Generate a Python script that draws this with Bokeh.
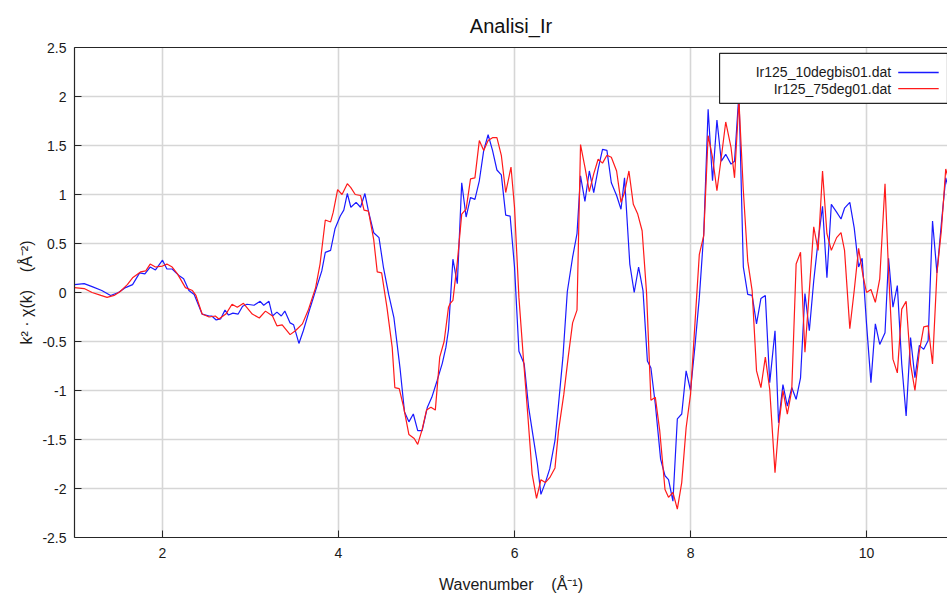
from bokeh.plotting import figure
from bokeh.models import FixedTicker, LinearAxis, BoxAnnotation, Label, Arrow, Range1d
from bokeh.embed import file_html
from bokeh.resources import INLINE

TITLE = "Analisi_Ir"
SERIES_NAMES = ["Ir125_10degbis01.dat", "Ir125_75deg01.dat"]
SERIES_COLORS = ["#1a1aff", "#ff1a1a"]

K_BLUE = [1.00, 1.11, 1.20, 1.31, 1.41, 1.50, 1.58, 1.66, 1.74, 1.80, 1.86, 1.92, 2.00, 2.05, 2.11,
          2.19, 2.24, 2.30, 2.36, 2.45, 2.53, 2.56, 2.61, 2.66, 2.71, 2.75, 2.80, 2.86, 2.91, 2.96,
          3.04, 3.11, 3.15, 3.21, 3.25, 3.30, 3.35, 3.39, 3.45, 3.49, 3.55, 3.60, 3.68, 3.75, 3.81,
          3.85, 3.91, 3.96, 4.02, 4.06, 4.10, 4.14, 4.20, 4.25, 4.30, 4.34, 4.40, 4.46, 4.51, 4.57,
          4.63, 4.70, 4.75, 4.80, 4.85, 4.90, 4.95, 5.01, 5.06, 5.12, 5.18, 5.22, 5.25, 5.30, 5.35,
          5.40, 5.45, 5.50, 5.55, 5.60, 5.65, 5.70, 5.75, 5.80, 5.85, 5.90, 5.95, 6.00, 6.05, 6.11,
          6.16, 6.21, 6.26, 6.30, 6.35, 6.40, 6.46, 6.50, 6.55, 6.60, 6.66, 6.71, 6.75, 6.80, 6.85,
          6.90, 6.95, 7.00, 7.05, 7.10, 7.16, 7.21, 7.25, 7.31, 7.36, 7.41, 7.46, 7.51, 7.55, 7.60,
          7.66, 7.71, 7.75, 7.80, 7.85, 7.90, 7.95, 8.00, 8.05, 8.10, 8.15, 8.20, 8.25, 8.30, 8.35,
          8.40, 8.46, 8.50, 8.55, 8.60, 8.65, 8.70, 8.75, 8.80, 8.85, 8.90, 8.96, 9.00, 9.05, 9.10,
          9.15, 9.20, 9.25, 9.30, 9.35, 9.40, 9.45, 9.50, 9.55, 9.60, 9.66, 9.71, 9.75, 9.81, 9.86,
          9.91, 9.95, 10.00, 10.05, 10.10, 10.15, 10.21, 10.25, 10.30, 10.35, 10.40, 10.45, 10.50,
          10.55, 10.60, 10.65, 10.70, 10.75, 10.80, 10.85, 10.90, 10.95]
CHI_BLUE = [0.08, 0.09, 0.06, 0.02, -0.03, 0.00, 0.05, 0.08, 0.20, 0.19, 0.26, 0.23, 0.33, 0.24, 0.24,
            0.17, 0.14, 0.02, -0.02, -0.22, -0.24, -0.24, -0.28, -0.27, -0.18, -0.23, -0.21, -0.22, -0.14, -0.12,
            -0.13, -0.09, -0.13, -0.09, -0.24, -0.20, -0.24, -0.19, -0.31, -0.33, -0.52, -0.39, -0.15, 0.05, 0.22,
            0.41, 0.43, 0.65, 0.78, 0.84, 1.01, 0.87, 0.92, 0.87, 1.01, 0.83, 0.61, 0.56, 0.26, -0.02,
            -0.26, -0.78, -1.22, -1.32, -1.24, -1.41, -1.41, -1.17, -1.07, -0.90, -0.72, -0.56, -0.38, 0.34, 0.09,
            1.12, 0.77, 0.97, 0.95, 1.14, 1.45, 1.61, 1.45, 1.25, 1.20, 0.79, 0.78, 0.26, -0.60, -0.73,
            -1.17, -1.46, -1.75, -2.06, -1.94, -1.80, -1.51, -1.14, -0.66, 0.01, 0.36, 0.60, 1.19, 0.93, 1.24,
            1.02, 1.26, 1.46, 1.45, 1.12, 0.99, 0.85, 1.17, 0.29, 0.00, 0.26, 0.02, -0.70, -0.77, -1.14,
            -1.70, -1.87, -1.91, -2.13, -1.29, -1.24, -0.80, -1.00, -0.55, -0.05, 0.60, 1.87, 1.14, 1.76, 1.34,
            1.41, 1.31, 1.34, 2.03, 0.26, -0.02, -0.03, -0.32, -0.06, -0.03, -0.92, -0.39, -1.33, -0.94, -1.16,
            -0.97, -1.09, -0.87, -0.01, -0.39, 0.12, 0.53, 0.88, 0.15, 0.90, 0.82, 0.75, 0.86, 0.92, 0.66,
            0.26, 0.35, -0.32, -0.92, -0.32, -0.53, -0.41, 0.35, -0.15, 0.07, -0.73, -1.26, -0.46,
            -0.87, -0.54, -0.58, -0.49, 0.73, 0.20, 0.70, 1.17, 1.00]

K_RED = [1.00, 1.11, 1.20, 1.30, 1.37, 1.45, 1.52, 1.60, 1.66, 1.75, 1.81, 1.86, 1.92, 2.00, 2.05,
         2.11, 2.17, 2.26, 2.34, 2.38, 2.45, 2.53, 2.60, 2.64, 2.72, 2.79, 2.85, 2.92, 3.02, 3.10,
         3.17, 3.25, 3.30, 3.36, 3.45, 3.51, 3.59, 3.66, 3.74, 3.79, 3.85, 3.91, 3.94, 3.99, 4.04,
         4.10, 4.14, 4.19, 4.25, 4.29, 4.34, 4.40, 4.44, 4.49, 4.55, 4.61, 4.64, 4.69, 4.74, 4.80,
         4.86, 4.90, 4.95, 5.00, 5.05, 5.10, 5.15, 5.20, 5.25, 5.27, 5.30, 5.35, 5.40, 5.45, 5.50,
         5.55, 5.60, 5.65, 5.70, 5.75, 5.80, 5.85, 5.90, 5.96, 6.00, 6.05, 6.10, 6.15, 6.20, 6.25,
         6.30, 6.35, 6.40, 6.46, 6.50, 6.56, 6.61, 6.66, 6.71, 6.75, 6.80, 6.85, 6.90, 6.95, 7.00,
         7.05, 7.10, 7.16, 7.21, 7.25, 7.30, 7.35, 7.40, 7.45, 7.50, 7.55, 7.60, 7.65, 7.71, 7.75,
         7.80, 7.85, 7.90, 7.95, 8.00, 8.05, 8.10, 8.15, 8.20, 8.25, 8.30, 8.35, 8.40, 8.46, 8.50,
         8.55, 8.60, 8.65, 8.70, 8.75, 8.80, 8.85, 8.90, 8.96, 9.00, 9.05, 9.10, 9.15, 9.20, 9.25,
         9.30, 9.35, 9.40, 9.45, 9.50, 9.55, 9.60, 9.66, 9.71, 9.75, 9.81, 9.86, 9.91, 9.96, 10.00,
         10.05, 10.10, 10.15, 10.21, 10.25, 10.30, 10.35, 10.40, 10.45, 10.50, 10.55, 10.60, 10.65,
         10.70, 10.75, 10.80, 10.85, 10.90, 10.95]
CHI_RED = [0.05, 0.04, 0.00, -0.03, -0.05, -0.03, 0.01, 0.08, 0.15, 0.21, 0.22, 0.29, 0.26, 0.27, 0.29,
           0.26, 0.19, 0.05, 0.02, -0.03, -0.22, -0.25, -0.24, -0.27, -0.22, -0.12, -0.15, -0.11, -0.22, -0.26,
           -0.19, -0.24, -0.34, -0.33, -0.43, -0.39, -0.32, -0.17, 0.05, 0.29, 0.74, 0.72, 0.82, 1.05, 1.00,
           1.11, 1.07, 1.00, 0.99, 0.84, 0.83, 0.54, 0.21, 0.20, -0.15, -0.56, -0.97, -0.98, -1.17, -1.45,
           -1.49, -1.55, -1.40, -1.20, -1.17, -1.20, -0.66, -0.50, -0.15, -0.11, -0.08, 0.31, 0.80, 0.85, 1.16,
           1.17, 1.55, 1.45, 1.55, 1.58, 1.58, 1.40, 1.02, 1.28, 0.87, -0.05, -0.66, -1.24, -1.85, -2.10,
           -1.91, -1.94, -1.89, -1.79, -1.41, -1.04, -0.66, -0.31, -0.18, 1.51, 1.28, 1.03, 1.21, 1.36, 1.32,
           1.40, 1.38, 1.24, 0.92, 1.02, 1.24, 0.90, 0.80, 0.63, 0.00, -1.10, -1.07, -1.41, -2.01, -2.09,
           -2.04, -2.21, -1.94, -1.38, -1.04, -0.32, 0.39, 0.58, 1.60, 1.38, 1.04, 1.38, 1.74, 1.48, 1.17,
           1.96, 1.04, 0.32, 0.02, -0.80, -0.97, -0.66, -0.99, -1.84, -1.38, -1.00, -1.24, -1.00, 0.29, 0.41,
           -0.61, 0.02, 0.67, 0.43, 1.24, 0.60, 0.43, 0.56, 0.61, 0.43, -0.37, 0.02, 0.45, 0.17, 0.00,
           0.03, -0.10, 0.14, 1.11, 0.22, -0.68, -0.82, -0.17, -0.09, -0.73, -1.00, -0.60, -0.35,
           -0.34, -0.73, 0.20, 0.63, 1.26, 1.10]

X_TICKS = [2, 4, 6, 8, 10]
Y_TICKS = [-2.5, -2, -1.5, -1, -0.5, 0, 0.5, 1, 1.5, 2, 2.5]
Y_TICK_LABELS = ["-2.5", "-2", "-1.5", "-1", "-0.5", "0", "0.5", "1", "1.5", "2", "2.5"]
X_LABEL = "Wavenumber\u00a0\u00a0\u00a0\u00a0(\u00c5\u207b\u00b9)"
Y_LABEL = "k\u00b2 \u00b7 \u03c7(k)\u00a0\u00a0\u00a0\u00a0(\u00c5\u207b\u00b2)"

FONT = "Liberation Sans"
AX_COLOR = "#262626"
GRID_COLOR = "#d6d6d6"
X0, X1 = 1, 10.92
Y0, Y1 = -2.5, 2.5

p = figure(width=947, height=595, x_range=Range1d(X0, X1), y_range=Range1d(Y0, Y1),
           output_backend="svg", toolbar_location=None, title=TITLE,
           min_border_left=74, min_border_right=0, min_border_top=47, min_border_bottom=58)
p.background_fill_color = "white"
p.border_fill_color = "white"
p.outline_line_color = None

p.title.align = "center"
p.title.text_font = FONT
p.title.text_font_size = "20px"
p.title.text_font_style = "normal"
p.title.text_color = "#111111"
p.title.standoff = 22

for ax in (p.xaxis[0], p.yaxis[0]):
    ax.axis_line_color = AX_COLOR
    ax.axis_line_width = 1.2
    ax.major_tick_line_color = AX_COLOR
    ax.major_tick_in = 7
    ax.major_tick_out = 0
    ax.minor_tick_in = 0
    ax.minor_tick_out = 0
    ax.major_label_text_font = FONT
    ax.major_label_text_font_size = "14px"
    ax.major_label_text_color = "#1a1a1a"
    ax.axis_label_text_font = FONT
    ax.axis_label_text_font_size = "16px"
    ax.axis_label_text_font_style = "normal"
    ax.axis_label_text_color = "#1a1a1a"

p.xaxis.ticker = FixedTicker(ticks=X_TICKS)
p.xaxis.axis_label = X_LABEL
p.xaxis.major_label_standoff = 10
p.xaxis.axis_label_standoff = 15

p.yaxis.ticker = FixedTicker(ticks=Y_TICKS)
p.yaxis.major_label_overrides = {t: s for t, s in zip(Y_TICKS, Y_TICK_LABELS)}
p.yaxis.axis_label = Y_LABEL
p.yaxis.major_label_standoff = 8
p.yaxis.axis_label_standoff = 4

# top frame line only (no ticks, no labels)
top_axis = LinearAxis(ticker=FixedTicker(ticks=[]),
                      major_tick_in=0, major_tick_out=0, minor_tick_in=0, minor_tick_out=0,
                      axis_line_color=AX_COLOR, axis_line_width=1.2)
p.add_layout(top_axis, "above")

p.xgrid.ticker = FixedTicker(ticks=X_TICKS)
p.ygrid.ticker = FixedTicker(ticks=Y_TICKS)
for g in (p.xgrid[0], p.ygrid[0]):
    g.grid_line_color = GRID_COLOR
    g.grid_line_width = 1.6

p.line(K_BLUE, CHI_BLUE, line_color=SERIES_COLORS[0], line_width=1.2)
p.line(K_RED, CHI_RED, line_color=SERIES_COLORS[1], line_width=1.2)

# legend box (text right-aligned, line sample to its right)
p.add_layout(BoxAnnotation(left=8.33, right=X1, top=2.44, bottom=1.93,
                           fill_color="white", fill_alpha=1.0, line_color=AX_COLOR,
                           line_alpha=1.0, line_width=1.2))
rows_y = [2.245, 2.08]
for name, color, yy in zip(SERIES_NAMES, SERIES_COLORS, rows_y):
    p.add_layout(Label(x=10.28, y=yy, text=name, text_align="right", text_baseline="middle",
                       text_font=FONT, text_font_size="14px", text_color="#1a1a1a"))
    p.add_layout(Arrow(end=None, x_start=10.36, y_start=yy, x_end=10.82, y_end=yy,
                       line_color=color, line_width=1.3))

open("out.html", "w").write(file_html(p, INLINE))
